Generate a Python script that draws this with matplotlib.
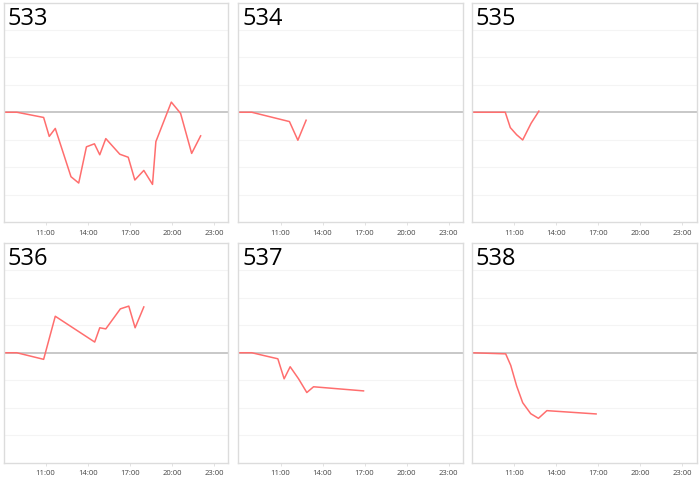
import matplotlib
matplotlib.use("Agg")
import matplotlib.pyplot as plt

plt.rcParams['font.family'] = ['Open Sans', 'DejaVu Sans']

# station names
names = ["533", "534", "535", "536", "537", "538"]

# hours of day (decimal) and values
t533 = [8.0, 8.96, 10.86, 11.26, 11.69, 12.81, 13.36, 13.91, 14.48, 14.86, 15.29,
        16.29, 16.89, 17.36, 18.0, 18.62, 18.86, 19.96, 20.62, 21.41, 22.05]
v533 = [0, 0, -0.19, -0.88, -0.59, -2.35, -2.58, -1.26, -1.15, -1.55, -0.96,
        -1.53, -1.64, -2.47, -2.12, -2.63, -1.07, 0.37, -0.04, -1.50, -0.86]

t534 = [8.0, 8.95, 11.64, 12.24, 12.83]
v534 = [0, 0, -0.34, -1.02, -0.29]

t535 = [8.0, 10.40, 10.76, 11.21, 11.64, 12.24, 12.79]
v535 = [0, 0, -0.56, -0.82, -1.01, -0.40, 0.04]

t536 = [8.0, 8.95, 10.86, 11.69, 14.5, 14.86, 15.29, 16.33, 16.93, 17.38, 18.0]
v536 = [0, 0, -0.24, 1.33, 0.39, 0.91, 0.87, 1.60, 1.70, 0.91, 1.67]

t537 = [8.0, 8.95, 10.81, 11.26, 11.69, 12.29, 12.88, 13.36, 16.93]
v537 = [0, 0, -0.22, -0.95, -0.51, -0.95, -1.45, -1.24, -1.39]

t538 = [8.0, 10.43, 10.79, 11.21, 11.64, 12.21, 12.76, 13.36, 16.86]
v538 = [0, -0.04, -0.46, -1.21, -1.82, -2.22, -2.39, -2.11, -2.23]

series = [(t533, v533), (t534, v534), (t535, v535),
          (t536, v536), (t537, v537), (t538, v538)]

xticks = [11, 14, 17, 20, 23]
xlabels = ["11:00", "14:00", "17:00", "20:00", "23:00"]

W, H = 700, 481
fig = plt.figure(figsize=(W / 100, H / 100), dpi=100)

lefts = [3.5, 238.5, 471.5]
widths = [224.5, 224, 225]
tops = [3.5, 244]
heights = [219.5, 219.5]

for i, (name, (t, v)) in enumerate(zip(names, series)):
    r, c = divmod(i, 3)
    ax = fig.add_axes([lefts[c] / W, 1 - (tops[r] + heights[r]) / H,
                       widths[c] / W, heights[r] / H])
    ax.set_xlim(8, 24)
    ax.set_ylim(-4, 4)
    for g in [-3, -2, -1, 1, 2, 3]:
        ax.axhline(g, color="#f4f4f4", lw=0.8, zorder=0)
    ax.axhline(0, color="#c4c4c4", lw=1.3, zorder=1)
    ax.plot(t, v, color="#ff6e6e", lw=1.1, zorder=2)
    ax.set_xticks(xticks)
    ax.set_xticklabels(xlabels)
    ax.set_yticks([])
    ax.tick_params(axis="x", length=2, width=0.6, color="#dddddd",
                   labelsize=5.5, labelcolor="#444444", pad=3)
    for s in ax.spines.values():
        s.set_color("#dcdcdc")
        s.set_linewidth(1.0)
    ax.text(0.018, 0.985, name, transform=ax.transAxes, fontsize=17,
            va="top", ha="left", color="black")

fig.savefig("out.png", dpi=100)
